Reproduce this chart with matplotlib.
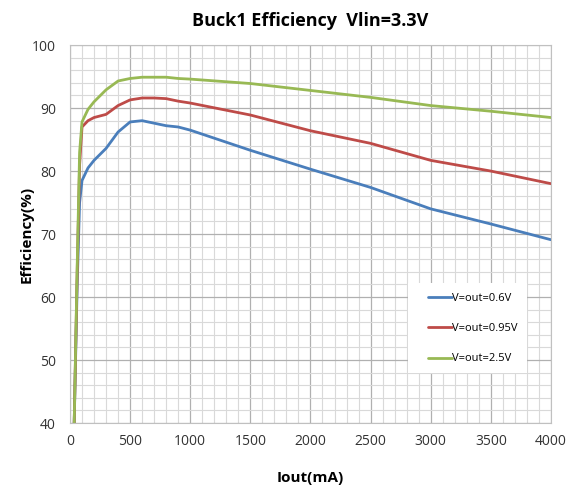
import matplotlib.pyplot as plt
from matplotlib.patches import Rectangle
from matplotlib.ticker import MultipleLocator

plt.rcParams['font.family'] = ['Open Sans', 'DejaVu Sans']

# load current (mA)
iout = [35, 60, 80, 100, 150, 200, 300, 400, 500, 600, 700, 800, 900, 1000,
        1500, 2000, 2500, 3000, 3500, 4000]

eff_06 = [40, 62, 75, 78.5, 80.5, 81.7, 83.6, 86.2, 87.8, 88.0, 87.6, 87.2,
          87.0, 86.5, 83.3, 80.3, 77.4, 74.0, 71.6, 69.1]
eff_095 = [40, 64, 81, 87.0, 88.0, 88.5, 89.0, 90.4, 91.3, 91.6, 91.6, 91.5,
           91.1, 90.8, 88.9, 86.4, 84.4, 81.7, 80.0, 78.0]
eff_25 = [40, 65, 83, 87.8, 89.8, 91.0, 92.9, 94.3, 94.7, 94.9, 94.9, 94.9,
          94.7, 94.6, 93.9, 92.8, 91.7, 90.4, 89.5, 88.5]

labels = ['V=out=0.6V', 'V=out=0.95V', 'V=out=2.5V']
colors = ['#4a7ebb', '#be4b48', '#98b954']

fig = plt.figure(figsize=(5.76, 4.87), dpi=100)
ax = fig.add_axes([0.1215, 0.1314, 0.835, 0.776])

for y, lab, c in zip([eff_06, eff_095, eff_25], labels, colors):
    ax.plot(iout, y, color=c, lw=2, label=lab, solid_capstyle='round')

ax.set_xlim(0, 4000)
ax.set_ylim(40, 100)
ax.xaxis.set_major_locator(MultipleLocator(500))
ax.xaxis.set_minor_locator(MultipleLocator(100))
ax.yaxis.set_major_locator(MultipleLocator(10))
ax.yaxis.set_minor_locator(MultipleLocator(2))
ax.grid(which='major', color='#b0b0b0', lw=0.9)
ax.grid(which='minor', color='#d9d9d9', lw=0.8)
ax.set_axisbelow(True)
ax.tick_params(which='both', length=0, labelsize=10, colors='#333333')
ax.tick_params(axis='x', pad=8)
ax.tick_params(axis='y', pad=10)
for s in ax.spines.values():
    s.set_color('#c0c0c0')

ax.set_title('Buck1 Efficiency  Vlin=3.3V', fontsize=13, fontweight='bold', pad=14)
ax.set_xlabel('Iout(mA)', fontsize=11, fontweight='bold', labelpad=16)
ax.set_ylabel('Efficiency(%)', fontsize=11, fontweight='bold', labelpad=-1)

# white legend panel, like the excel plot area legend
ax.add_patch(Rectangle((0.703, 0.132), 0.247, 0.238, transform=ax.transAxes,
                       facecolor='white', edgecolor='none', zorder=2))
ax.legend(loc='upper left', bbox_to_anchor=(0.732, 0.36), frameon=False,
          fontsize=8, labelspacing=1.75, handlelength=2.2, handletextpad=0.0,
          borderpad=0)

fig.savefig('out.png', dpi=100)
